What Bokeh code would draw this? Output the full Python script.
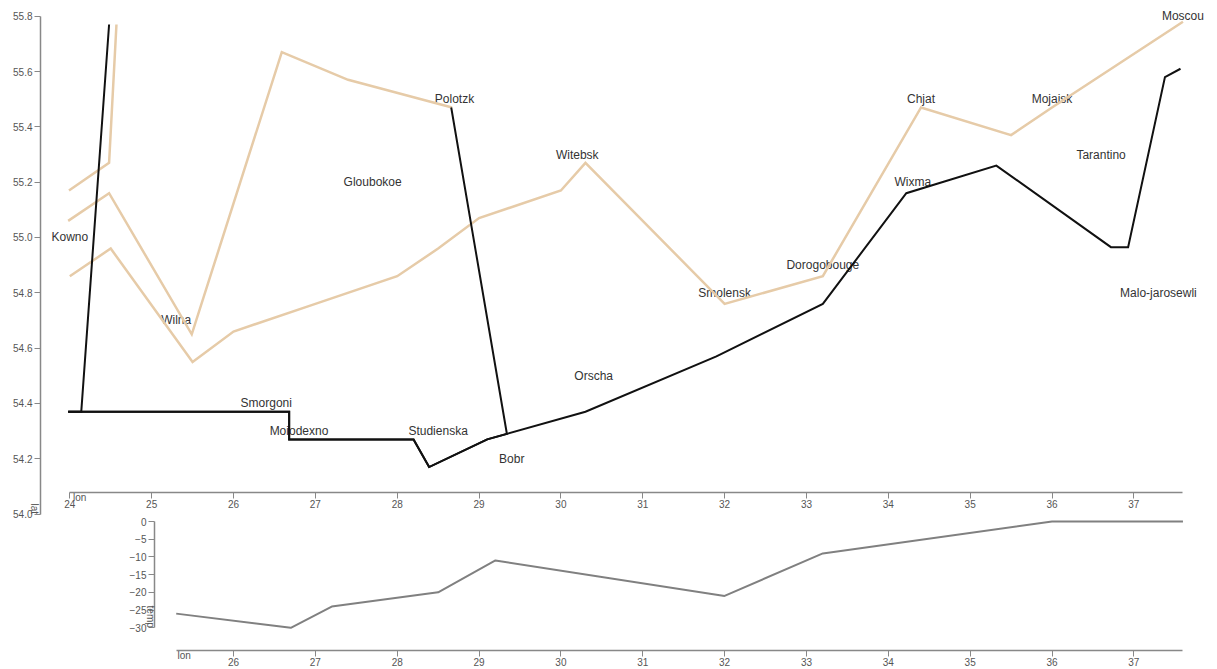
import math
from bokeh.plotting import figure
from bokeh.models import Range1d, LinearAxis, FixedTicker, Label, NumeralTickFormatter
from bokeh.core.properties import value
from bokeh.embed import file_html
from bokeh.resources import INLINE

# ---------------- data ----------------
# advance (beige) paths
adv1_lon = [24.0, 24.5, 25.5, 26.0, 27.0, 28.0, 28.5, 29.0, 30.0, 30.3, 32.0, 33.2, 34.4, 35.5, 36.0, 37.6]
adv1_lat = [54.86, 54.96, 54.55, 54.66, 54.76, 54.86, 54.96, 55.07, 55.17, 55.27, 54.76, 54.86, 55.47, 55.37, 55.47, 55.78]
adv2_lon = [23.98, 24.48, 25.49, 26.59, 27.40, 28.67]
adv2_lat = [55.06, 55.16, 54.65, 55.67, 55.57, 55.47]
adv3_lon = [23.99, 24.48, 24.57]
adv3_lat = [55.17, 55.27, 55.77]

# retreat (black) paths
ret1_lon = [37.57, 37.38, 36.93, 36.72, 35.32, 34.22, 33.20, 31.90, 30.30, 29.10, 28.39, 28.20, 26.68, 26.68, 23.98]
ret1_lat = [55.61, 55.58, 54.965, 54.965, 55.26, 55.16, 54.76, 54.57, 54.37, 54.27, 54.17, 54.27, 54.27, 54.37, 54.37]
ret2_lon = [28.66, 29.34, 29.10, 28.39, 28.20, 26.68, 26.68, 23.98]
ret2_lat = [55.47, 54.29, 54.27, 54.17, 54.27, 54.27, 54.37, 54.37]
ret3_lon = [24.48, 24.14, 23.98]
ret3_lat = [55.77, 54.37, 54.37]

# cities
city_names = ["Kowno", "Wilna", "Smorgoni", "Moiodexno", "Gloubokoe", "Studienska", "Polotzk",
              "Bobr", "Witebsk", "Orscha", "Smolensk", "Dorogobouge", "Wixma", "Chjat",
              "Mojaisk", "Moscou", "Tarantino", "Malo-jarosewli"]
city_lon = [24.0, 25.3, 26.4, 26.8, 27.7, 28.5, 28.7, 29.4, 30.2, 30.4, 32.0, 33.2, 34.3, 34.4,
            36.0, 37.6, 36.6, 37.3]
city_lat = [55.0, 54.7, 54.4, 54.3, 55.2, 54.3, 55.5, 54.2, 55.3, 54.5, 54.8, 54.9, 55.2, 55.5,
            55.5, 55.8, 55.3, 54.8]

# temperatures
temp_lon = [37.6, 36.0, 33.2, 32.0, 29.2, 28.5, 27.2, 26.7, 25.3]
temp_val = [0, 0, -9, -21, -11, -20, -24, -30, -26]

lon_ticks = [24, 25, 26, 27, 28, 29, 30, 31, 32, 33, 34, 35, 36, 37]
lat_ticks = [54.0, 54.2, 54.4, 54.6, 54.8, 55.0, 55.2, 55.4, 55.6, 55.8]
temp_lon_ticks = [26, 27, 28, 29, 30, 31, 32, 33, 34, 35, 36, 37]
temp_ticks = [0, -5, -10, -15, -20, -25, -30]

# ---------------- layout calibration ----------------
W, H = 1209, 668
ORIGIN = 0          # screen position of the canvas corner
PX_LON = 81.85      # px per degree longitude
LON24_PX = 69.3     # screen x of lon 24
PX_LAT = 276.6      # px per degree latitude
LAT558_PX = 15.7    # screen y of lat 55.8
PX_T = 3.543        # px per degree C
T0_PX = 521.0       # screen y of 0 deg

def lon_at(px):
    return 24 + (px - LON24_PX) / PX_LON

def lat_at(py):
    return 55.8 - (py - LAT558_PX) / PX_LAT

def temp_at(py):
    return -(py - T0_PX) / PX_T

x_start = lon_at(ORIGIN)
x_end = lon_at(ORIGIN + W)
y_end = lat_at(ORIGIN)
y_start = lat_at(ORIGIN + H)
t_end = temp_at(ORIGIN)
t_start = temp_at(ORIGIN + H)

p = figure(width=W, height=H, output_backend="svg", toolbar_location=None,
           x_range=Range1d(x_start, x_end), y_range=Range1d(y_start, y_end),
           x_axis_type=None, y_axis_type=None, min_border=0)
p.extra_y_ranges = {"temp": Range1d(t_start, t_end)}
p.outline_line_color = None
p.xgrid.visible = False
p.ygrid.visible = False
p.background_fill_color = "white"
p.border_fill_color = "white"

AXIS_COLOR = "#888888"
LABEL_COLOR = "#555555"
FONT = "Liberation Sans"

def style(ax):
    ax.axis_line_color = AXIS_COLOR
    ax.axis_line_width = 1.5
    ax.major_tick_line_color = AXIS_COLOR
    ax.major_tick_line_width = 1
    ax.major_tick_out = 6
    ax.major_tick_in = 0
    ax.minor_tick_out = 0
    ax.minor_tick_in = 0
    ax.major_label_text_font = FONT
    ax.major_label_text_font_size = "10px"
    ax.major_label_text_color = LABEL_COLOR
    ax.major_label_standoff = 2

# map axes
ax_lat = LinearAxis(fixed_location=lon_at(40), bounds=(54.0, 55.8),
                    ticker=FixedTicker(ticks=lat_ticks), formatter=NumeralTickFormatter(format="0.0"))
style(ax_lat)
p.add_layout(ax_lat, "left")
ax_lon = LinearAxis(fixed_location=lat_at(491.5), bounds=(24, 37.6), ticker=FixedTicker(ticks=lon_ticks))
style(ax_lon)
p.add_layout(ax_lon, "below")

# temperature axes
ax_temp = LinearAxis(y_range_name="temp", fixed_location=lon_at(154), bounds=(-30, 0),
                     ticker=FixedTicker(ticks=temp_ticks))
style(ax_temp)
p.add_layout(ax_temp, "left")
ax_tlon = LinearAxis(y_range_name="temp", fixed_location=temp_at(649.5), bounds=(25.3, 37.6),
                     ticker=FixedTicker(ticks=temp_lon_ticks))
style(ax_tlon)
p.add_layout(ax_tlon, "below")

# city labels
p.text(x=city_lon, y=city_lat, text=city_names, text_align="center", text_baseline="middle",
       text_font=value(FONT), text_font_size="12px", text_color="#333333")

# advance lines
BEIGE = "#e6cba8"
for xs, ys in [(adv1_lon, adv1_lat), (adv2_lon, adv2_lat), (adv3_lon, adv3_lat)]:
    p.line(xs, ys, line_color=BEIGE, line_width=2.5, line_join="miter")

# retreat lines
for xs, ys in [(ret1_lon, ret1_lat), (ret2_lon, ret2_lat), (ret3_lon, ret3_lat)]:
    p.line(xs, ys, line_color="#111111", line_width=2, line_join="miter")

# temperature line
p.line(temp_lon, temp_val, y_range_name="temp", line_color="#808080", line_width=2)

# axis titles
lbl_kw = dict(text_font=FONT, text_font_size="10px", text_color=LABEL_COLOR)
p.add_layout(Label(x=lon_at(34), y=54.0, text="lat", angle=-math.pi / 2,
                   text_align="right", text_baseline="middle", **lbl_kw))
p.add_layout(Label(x=lon_at(72.5), y=lat_at(491.5), text="lon",
                   text_align="left", text_baseline="top", **lbl_kw))
p.add_layout(Label(x=lon_at(150), y=-30, y_range_name="temp", text="temp", angle=-math.pi / 2,
                   text_align="right", text_baseline="middle", **lbl_kw))
p.add_layout(Label(x=lon_at(177), y=temp_at(649.5), y_range_name="temp", text="lon",
                   text_align="left", text_baseline="top", **lbl_kw))

open("out.html", "w").write(file_html(p, INLINE))
